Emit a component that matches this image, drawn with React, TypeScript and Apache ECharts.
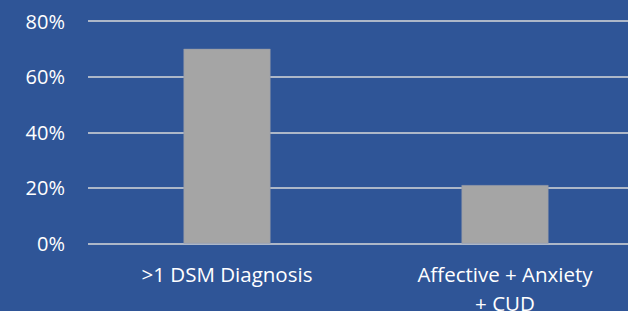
import React, { useEffect, useRef } from "react";
import * as echarts from "echarts";

const categories = [">1 DSM Diagnosis", "Affective + Anxiety\n+ CUD"];
const values = [70, 21];
const yTicks = [0, 20, 40, 60, 80];

export default function App() {
  const ref = useRef<HTMLDivElement>(null);
  useEffect(() => {
    const chart = echarts.init(ref.current!, null, { renderer: "svg" });
    chart.setOption({
      animation: false,
      backgroundColor: "#2F5597",
      grid: {
        left: 88,
        right: 0,
        top: 21,
        bottom: 67.5,
        containLabel: false,
        outerBoundsMode: "none",
      },
      xAxis: {
        type: "category",
        data: categories,
        axisLine: { show: false },
        axisTick: { show: false },
        axisLabel: {
          color: "#FFFFFF",
          fontFamily: "Open Sans",
          fontSize: 20.5,
          lineHeight: 29,
          margin: 16,
        },
      },
      yAxis: {
        type: "value",
        min: yTicks[0],
        max: yTicks[yTicks.length - 1],
        interval: 20,
        axisLine: { show: false },
        axisTick: { show: false },
        axisLabel: {
          color: "#FFFFFF",
          fontFamily: "Open Sans",
          fontSize: 20,
          margin: 23,
          formatter: (v: number) => v + "%",
        },
        splitLine: { lineStyle: { color: "#D9D9D9", width: 1.5 } },
      },
      series: [
        {
          type: "bar",
          data: values,
          barWidth: 87,
          itemStyle: { color: "#A5A5A5", borderColor: "#8C94A8", borderWidth: 0.5 },
        },
      ],
    });
    return () => chart.dispose();
  }, []);
  return (
    <div
      style={{ position: "fixed", left: 0, top: 0, width: 628, height: 311, overflow: "hidden" }}
    >
      <div ref={ref} style={{ width: 644, height: 311 }} />
    </div>
  );
}
